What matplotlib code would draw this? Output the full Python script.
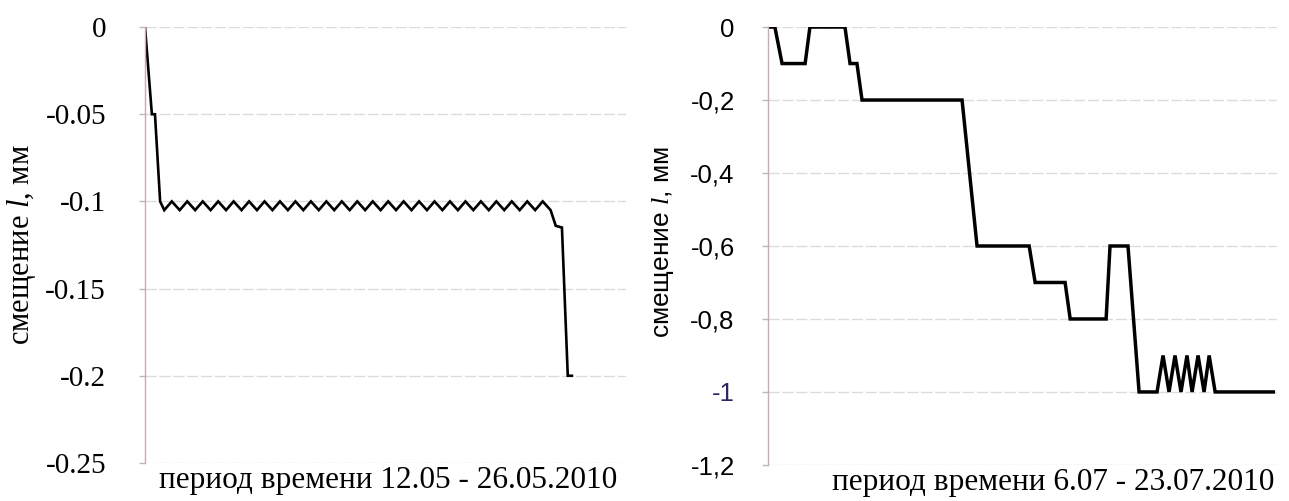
import matplotlib
matplotlib.use("Agg")
import matplotlib.pyplot as plt

plt.rcParams['mathtext.fontset'] = 'custom'
plt.rcParams['mathtext.it'] = 'Liberation Serif:italic'
plt.rcParams['mathtext.rm'] = 'Liberation Serif'

# --- DATA ---
# left chart: 12.05 - 26.05.2010, x in days from start
days_may = [0.00, 0.20, 0.29, 0.44,
            0.56, 0.78, 1.01, 1.23, 1.46, 1.68, 1.91, 2.13, 2.36, 2.58,
            2.81, 3.03, 3.26, 3.48, 3.71, 3.93, 4.16, 4.38, 4.61, 4.83,
            5.06, 5.28, 5.51, 5.73, 5.96, 6.18, 6.41, 6.63, 6.86, 7.08,
            7.31, 7.53, 7.76, 7.98, 8.21, 8.43, 8.66, 8.88, 9.11, 9.33,
            9.56, 9.78, 10.01, 10.23, 10.46, 10.68, 10.91, 11.13, 11.36, 11.58,
            11.81, 11.96, 12.14, 12.31, 12.43]
shift_may = [0.0, -0.05, -0.05, -0.1,
             -0.105, -0.1, -0.105, -0.1, -0.105, -0.1, -0.105, -0.1, -0.105, -0.1,
             -0.105, -0.1, -0.105, -0.1, -0.105, -0.1, -0.105, -0.1, -0.105, -0.1,
             -0.105, -0.1, -0.105, -0.1, -0.105, -0.1, -0.105, -0.1, -0.105, -0.1,
             -0.105, -0.1, -0.105, -0.1, -0.105, -0.1, -0.105, -0.1, -0.105, -0.1,
             -0.105, -0.1, -0.105, -0.1, -0.105, -0.1, -0.105, -0.1, -0.105, -0.1,
             -0.105, -0.114, -0.115, -0.2, -0.2]
yticks_may = [0, -0.05, -0.1, -0.15, -0.2, -0.25]
ylabels_may = ["0", "-0.05", "-0.1", "-0.15", "-0.2", "-0.25"]

# right chart: 6.07 - 23.07.2010
days_jul = [0.05, 0.23, 0.47, 1.24, 1.40, 2.57, 2.74, 2.97, 3.14, 6.48,
            6.98, 8.72, 8.92, 9.92, 10.09, 11.29, 11.42, 12.02, 12.39, 12.99,
            13.19, 13.39, 13.59, 13.79, 13.99, 14.16, 14.36, 14.56, 14.73, 14.93,
            16.87]
shift_jul = [0.0, 0.0, -0.1, -0.1, 0.0, 0.0, -0.1, -0.1, -0.2, -0.2,
             -0.6, -0.6, -0.7, -0.7, -0.8, -0.8, -0.6, -0.6, -1.0, -1.0,
             -0.9, -1.0, -0.9, -1.0, -0.9, -1.0, -0.9, -1.0, -0.9, -1.0,
             -1.0]
yticks_jul = [0, -0.2, -0.4, -0.6, -0.8, -1.0, -1.2]
ylabels_jul = ["0", "-0,2", "-0,4", "-0,6", "-0,8", "-1", "-1,2"]

serif = ['Liberation Serif', 'DejaVu Serif']
sans = ['Liberation Sans', 'DejaVu Sans']
grid_col = '#dcdcdc'
spine_col = '#c9aab4'


def style_axes(ax):
    for s in ['top', 'right', 'bottom']:
        ax.spines[s].set_visible(False)
    ax.spines['left'].set_color(spine_col)
    ax.spines['left'].set_linewidth(1.0)
    ax.grid(axis='y', color=grid_col, linewidth=1.0, linestyle=(0, (8, 2)))
    ax.set_axisbelow(True)
    ax.tick_params(axis='x', bottom=False, labelbottom=False)
    ax.tick_params(axis='y', length=4, color='#bbbbbb', width=1)


fig = plt.figure(figsize=(12.89, 5.01), dpi=100)

# left
ax1 = fig.add_axes([0.1125, 0.076, 0.373, 0.870])
ax1.plot(days_may, shift_may, color='black', linewidth=1.9, solid_joinstyle='miter')
ax1.set_xlim(0, 14)
ax1.set_ylim(-0.25, 0)
ax1.set_yticks(yticks_may)
ax1.set_yticklabels(ylabels_may, family=serif, fontsize=21)
ax1.tick_params(axis='y', pad=24)
style_axes(ax1)
ax1.set_xlabel("период времени 12.05 - 26.05.2010", family=serif, fontsize=22.5)
ax1.xaxis.set_label_coords(0.505, -0.006)
ax1.set_ylabel("смещение $l$, мм", family=serif, fontsize=22)
ax1.yaxis.set_label_coords(-0.222, 0.5)

# right
ax2 = fig.add_axes([0.5958, 0.072, 0.395, 0.874])
ax2.plot(days_jul, shift_jul, color='black', linewidth=2.5, solid_joinstyle='miter')
ax2.set_xlim(0, 17)
ax2.set_ylim(-1.2, 0)
ax2.set_yticks(yticks_jul)
ax2.set_yticklabels(ylabels_jul, family=sans, fontsize=18.5)
ax2.get_yticklabels()[5].set_color('#2e2464')
ax2.tick_params(axis='y', pad=20)
style_axes(ax2)
ax2.set_xlabel("период времени 6.07 - 23.07.2010", family=serif, fontsize=22.5)
ax2.xaxis.set_label_coords(0.56, -0.006)
ax2.set_ylabel("смещение $l$, мм", family=sans, fontsize=19)
ax2.yaxis.set_label_coords(-0.18, 0.51)

fig.savefig("out.png", dpi=100)
